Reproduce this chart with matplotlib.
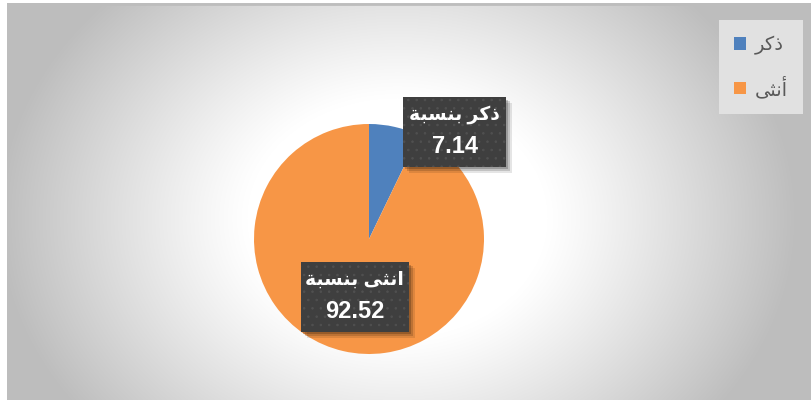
import numpy as np
import matplotlib
matplotlib.use("Agg")
import matplotlib.pyplot as plt
from matplotlib.patches import Rectangle, Patch

# chart data
legend_names = ['ذكر', 'أنثى']
label_names = ['ذكر', 'انثى']
percent = [7.14, 92.52]
colors = ['#4f81bd', '#f79646']

# minimal arabic shaping (matplotlib draws glyphs left to right, no joining)
FORMS = {
    'ا': ('\uFE8D', '\uFE8E', None, None),
    'أ': ('\uFE83', '\uFE84', None, None),
    'ب': ('\uFE8F', '\uFE90', '\uFE91', '\uFE92'),
    'ة': ('\uFE93', '\uFE94', None, None),
    'ث': ('\uFE99', '\uFE9A', '\uFE9B', '\uFE9C'),
    'ذ': ('\uFEAB', '\uFEAC', None, None),
    'ر': ('\uFEAD', '\uFEAE', None, None),
    'س': ('\uFEB1', '\uFEB2', '\uFEB3', '\uFEB4'),
    'ك': ('\uFED9', '\uFEDA', '\uFEDB', '\uFEDC'),
    'ن': ('\uFEE5', '\uFEE6', '\uFEE7', '\uFEE8'),
    'ى': ('\uFEEF', '\uFEF0', None, None),
}


def shape(s):
    out = []
    for i, c in enumerate(s):
        if c not in FORMS:
            out.append(c)
            continue
        prev = s[i - 1] if i > 0 else None
        nxt = s[i + 1] if i + 1 < len(s) else None
        jp = prev in FORMS and FORMS[prev][2] is not None
        jn = nxt in FORMS and FORMS[c][2] is not None
        iso, fin, ini, med = FORMS[c]
        if jp and jn:
            out.append(med)
        elif jp:
            out.append(fin)
        elif jn:
            out.append(ini)
        else:
            out.append(iso)
    return ''.join(reversed(out))


plt.rcParams['hatch.linewidth'] = 0.6

W, H = 811, 400
fig = plt.figure(figsize=(W / 100, H / 100), dpi=100)
fig.patch.set_facecolor('white')

# radial gradient background
bg = fig.add_axes([7 / W, 0, (W - 7) / W, (H - 3) / H])
bg.set_axis_off()
yy, xx = np.mgrid[0:397, 0:804]
r = np.hypot((xx - 390) / 1.0, (yy - 215) / 0.8)
v = 255 - 66 * np.clip((r - 150) / 250, 0, 1) ** 1.1
img = np.dstack([v, v, v]) / 255
bg.imshow(img, aspect='auto', extent=[0, 804, 397, 0])
bg.plot([0, 804], [1, 1], color='#bdbdbd', lw=2)
bg.set_xlim(0, 804)
bg.set_ylim(397, 0)

# pie
cx, cy, rad = 369, 239, 115
ax = fig.add_axes([(cx - rad) / W, (H - cy - rad) / H, 2 * rad / W, 2 * rad / H])
ax.pie(percent, colors=colors, startangle=90, counterclock=False,
       wedgeprops=dict(linewidth=0))
ax.set_xlim(-1, 1)
ax.set_ylim(-1, 1)
ax.set_aspect('auto')
ax.set_axis_off()

# data labels (box position and size in data units of the pie axes)
boxes = [(0.296, 0.626, 0.896), (-0.592, -0.809, 0.939)]
bh = 0.605
for (bx, by, bw), name, p in zip(boxes, label_names, percent):
    for k, a in [(0.05, 0.10), (0.035, 0.15), (0.02, 0.2)]:
        sh = Rectangle((bx + k, by - k), bw, bh, facecolor='#000000',
                       alpha=a, edgecolor='none', clip_on=False, zorder=3)
        ax.add_patch(sh)
    box = Rectangle((bx, by), bw, bh, facecolor='#3f3f3f', edgecolor='#505050',
                    hatch='..', lw=0, clip_on=False, zorder=4)
    ax.add_patch(box)
    ax.text(bx + bw / 2, by + bh * 0.75, shape(name + ' بنسبة'), color='white',
            fontsize=13.5, fontweight='bold', ha='center', va='center',
            family=['Liberation Sans', 'DejaVu Sans'], zorder=5)
    ax.text(bx + bw / 2, by + bh * 0.29, f'{p:.2f}', color='white',
            fontsize=17, fontweight='bold', ha='center', va='center',
            family=['Liberation Sans', 'DejaVu Sans'], zorder=5)

# legend
handles = [Patch(facecolor=c, edgecolor='none') for c in colors]
leg = fig.legend(handles, [shape(n) for n in legend_names],
                 loc='upper right', bbox_to_anchor=(803 / W, 1 - 20 / H),
                 frameon=True, fancybox=False,
                 handlelength=0.62, handleheight=0.62, handletextpad=0.45,
                 labelspacing=1.1, borderpad=0.78, borderaxespad=0,
                 prop={'family': ['DejaVu Sans'], 'size': 14})
leg.get_frame().set_facecolor('#e1e1e1')
leg.get_frame().set_edgecolor('none')
leg.get_frame().set_alpha(1)
for t in leg.get_texts():
    t.set_color('#595959')

fig.savefig('out.png', dpi=100)
